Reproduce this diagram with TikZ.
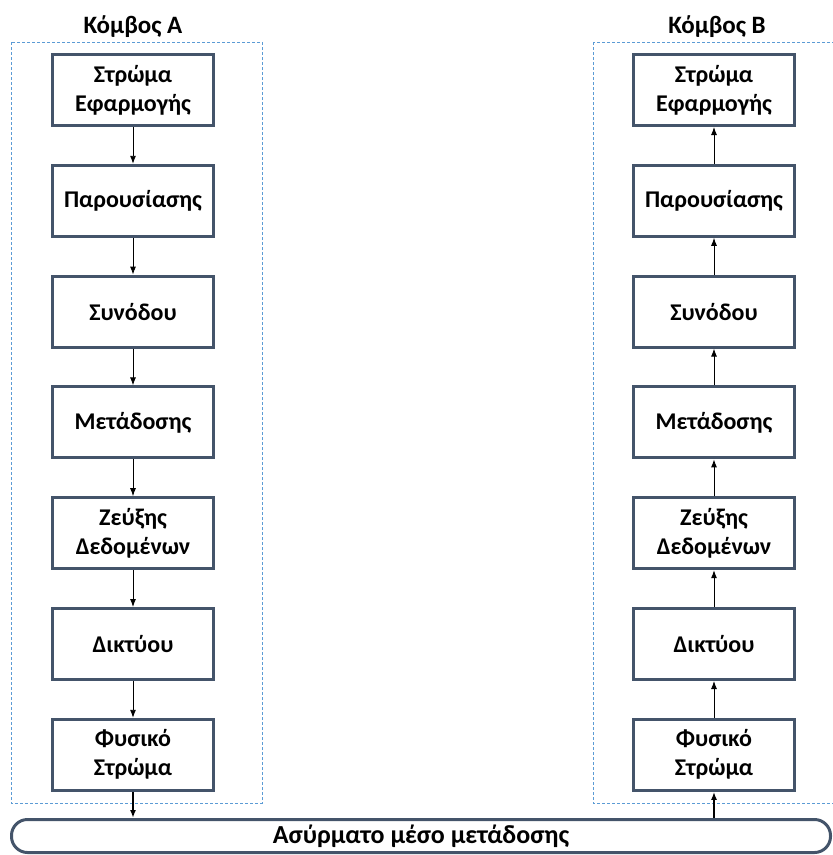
\documentclass[tikz,border=0pt]{standalone}
\usepackage{fontspec}
\setmainfont{Carlito}
\usetikzlibrary{positioning,arrows.meta}
\definecolor{boxline}{RGB}{68,84,106}
\definecolor{frameblue}{RGB}{91,155,213}

\begin{document}
\begin{tikzpicture}[x=1pt,y=-1pt,>={Latex[length=8pt,width=6pt]},node distance=36.8pt,
	layer/.style={draw=boxline,line width=3pt,fill=white,minimum width=161pt,minimum height=71pt,
		align=center,inner sep=2pt,font=\bfseries\fontsize{24}{29}\selectfont},
	title/.style={font=\bfseries\fontsize{25}{30}\selectfont,anchor=base},
	frame/.style={draw=frameblue,dash pattern=on 3pt off 2pt,line width=0.9pt},
	link/.style={->,line width=0.9pt}]
	\useasboundingbox (0,0) rectangle (833,855);
	% dashed frames of the two nodes
	\draw[frame] (11,42) rectangle (262,803);
	\draw[frame] (593,42) rectangle (838,803);
	\node[title] (titleA) at (133,33) {Κόμβος A};
	\node[title] (titleB) at (717,33) {Κόμβος B};
	% node A
	\node[layer] (A1) at (133,90) {Στρώμα\\Εφαρμογής};
	\node[layer,below=of A1] (A2) {Παρουσίασης};
	\node[layer,below=of A2] (A3) {Συνόδου};
	\node[layer,below=of A3] (A4) {Μετάδοσης};
	\node[layer,below=of A4] (A5) {Ζεύξης\\Δεδομένων};
	\node[layer,below=of A5] (A6) {Δικτύου};
	\node[layer,below=of A6] (A7) {Φυσικό\\Στρώμα};
	% node B
	\node[layer] (B1) at (714,90) {Στρώμα\\Εφαρμογής};
	\node[layer,below=of B1] (B2) {Παρουσίασης};
	\node[layer,below=of B2] (B3) {Συνόδου};
	\node[layer,below=of B3] (B4) {Μετάδοσης};
	\node[layer,below=of B4] (B5) {Ζεύξης\\Δεδομένων};
	\node[layer,below=of B5] (B6) {Δικτύου};
	\node[layer,below=of B6] (B7) {Φυσικό\\Στρώμα};
	% medium
	\node[draw=boxline,line width=3pt,rounded corners=16pt,minimum width=819pt,minimum height=33pt,
		inner sep=0pt,font=\bfseries\fontsize{26}{30}\selectfont] (medium) at (421,836) {Ασύρματο μέσο μετάδοσης};
	\foreach \i [count=\j from 2] in {1,...,6} {
		\draw[link] (A\i) -- (A\j);
		\draw[link] (B\j) -- (B\i);
	}
	\draw[link,line width=1.8pt] (A7) -- (A7 |- medium.north);
	\draw[link,line width=1.8pt] (B7 |- medium.north) -- (B7);
\end{tikzpicture}
\end{document}
